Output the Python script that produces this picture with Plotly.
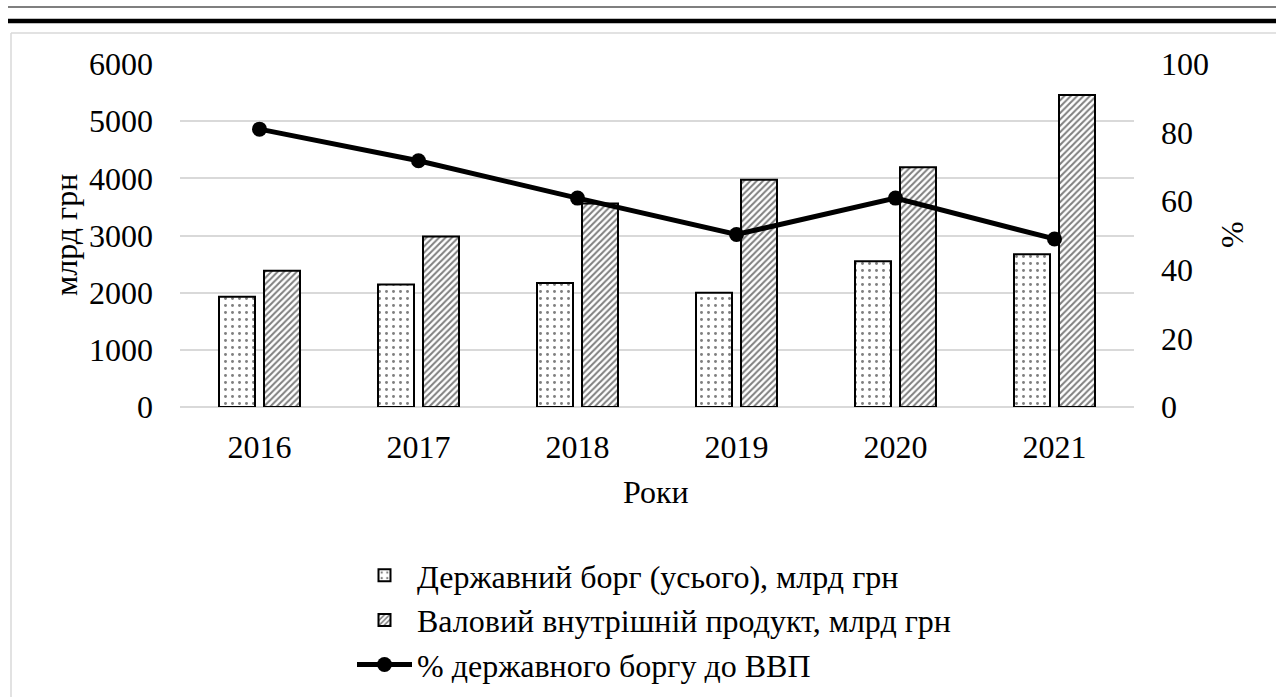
import plotly.graph_objects as go

years = ["2016", "2017", "2018", "2019", "2020", "2021"]
debt = [1930, 2141, 2168, 1998, 2551, 2672]
gdp = [2385, 2983, 3560, 3974, 4194, 5459]
debt_pct = [81.0, 71.8, 60.9, 50.3, 60.9, 49.0]

debt_name = "Державний борг (усього), млрд грн"
gdp_name = "Валовий внутрішній продукт, млрд грн"
pct_name = "% державного боргу до ВВП"

FONT = "Liberation Serif, Times New Roman, serif"
FS = 32

W, H = 1276, 697
L, R, T, B = 180, 142, 64, 290
pw, ph = W - L - R, H - T - B

def fx(px):
    return (px - L) / pw

def fy(py):
    return (H - B - py) / ph

fig = go.Figure()
fig.add_trace(go.Bar(
    x=years, y=debt, name=debt_name,
    marker=dict(color="white", line=dict(color="black", width=2),
                pattern=dict(shape=".", fgcolor="black", bgcolor="white", size=7, solidity=0.14)),
))
fig.add_trace(go.Bar(
    x=years, y=gdp, name=gdp_name,
    marker=dict(color="white", line=dict(color="black", width=2),
                pattern=dict(shape="/", fgcolor="black", bgcolor="white", size=4.5, solidity=0.45)),
))
fig.add_trace(go.Scatter(
    x=years, y=debt_pct, name=pct_name, yaxis="y2", mode="lines+markers",
    line=dict(color="black", width=5), marker=dict(color="black", size=15),
))

grid = "#d9d9d9"
fig.update_layout(
    width=W, height=H,
    margin=dict(l=L, r=R, t=T, b=B, autoexpand=False),
    paper_bgcolor="white", plot_bgcolor="white",
    font=dict(family=FONT, size=FS, color="black"),
    barmode="group", bargap=0.434, bargroupgap=0.2,
    showlegend=True,
    legend=dict(orientation="v", x=fx(352), y=fy(548), xanchor="left", yanchor="top",
                font=dict(family=FONT, size=FS), bgcolor="rgba(0,0,0,0)", itemwidth=55,
                traceorder="normal"),
    xaxis=dict(type="category", showgrid=False, showline=False, zeroline=False,
               ticks="", ticklabelstandoff=18, tickfont=dict(size=FS)),
    yaxis=dict(range=[0, 6000], dtick=1000, showgrid=True, gridcolor=grid, gridwidth=1.5,
               zeroline=True, zerolinecolor=grid, zerolinewidth=1.5, showline=False,
               ticks="", ticklabelstandoff=26, tickfont=dict(size=FS)),
    yaxis2=dict(range=[0, 100], dtick=20, overlaying="y", side="right", showgrid=False,
                zeroline=False, showline=False, ticks="", ticklabelstandoff=26,
                tickfont=dict(size=FS)),
    annotations=[
        dict(text="млрд грн", xref="paper", yref="paper", x=fx(66), y=fy(235),
             showarrow=False, textangle=-90, xanchor="center", yanchor="middle",
             font=dict(size=FS)),
        dict(text="%", xref="paper", yref="paper", x=fx(1232), y=fy(235),
             showarrow=False, textangle=-90, xanchor="center", yanchor="middle",
             font=dict(size=FS)),
        dict(text="Роки", xref="paper", yref="paper", x=fx(656), y=fy(492),
             showarrow=False, xanchor="center", yanchor="middle", font=dict(size=FS)),
    ],
    shapes=[
        dict(type="line", xref="paper", yref="paper", x0=fx(8), x1=fx(1276), y0=fy(7), y1=fy(7),
             line=dict(color="#555555", width=1.5)),
        dict(type="line", xref="paper", yref="paper", x0=fx(8), x1=fx(1276), y0=fy(21), y1=fy(21),
             line=dict(color="black", width=4.5)),
        dict(type="line", xref="paper", yref="paper", x0=fx(11), x1=fx(1276), y0=fy(33), y1=fy(33),
             line=dict(color=grid, width=1.5)),
        dict(type="line", xref="paper", yref="paper", x0=fx(11), x1=fx(11), y0=fy(33), y1=fy(697),
             line=dict(color=grid, width=1.5)),
    ],
)

fig.write_html("out.html", config={"displayModeBar": False},
               post_script="document.body.style.margin='0px';document.body.style.overflow='hidden';")
